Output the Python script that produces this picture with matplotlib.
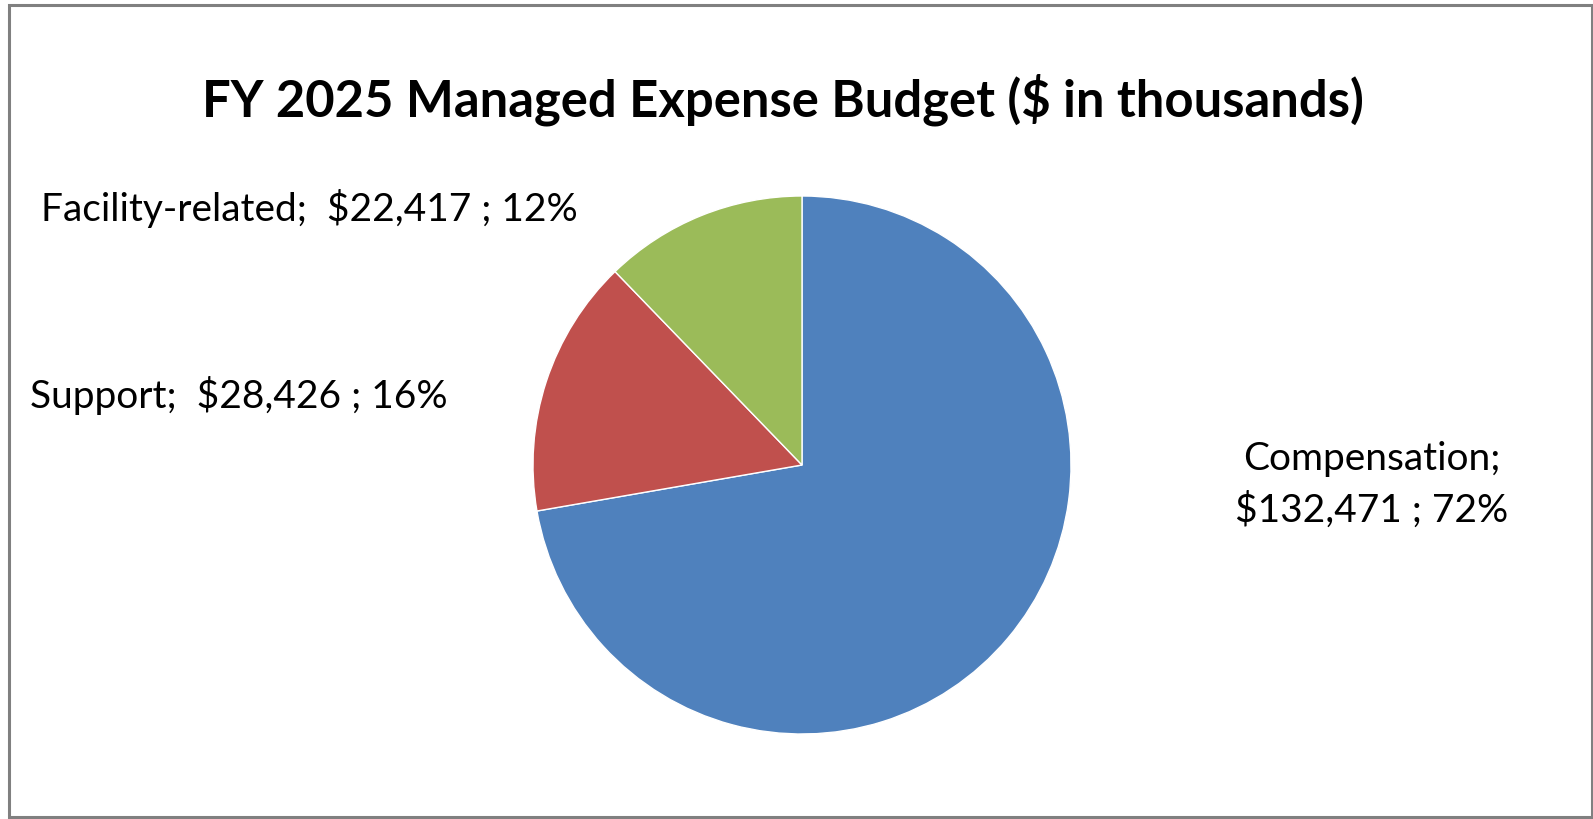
import matplotlib.pyplot as plt
from matplotlib.patches import Rectangle

plt.rcParams['font.family'] = ['Lato', 'DejaVu Sans']

categories = ['Compensation', 'Support', 'Facility-related']
values = [132471, 28426, 22417]
colors = ['#4F81BD', '#C0504D', '#9BBB59']

W, H = 1593, 820
fig = plt.figure(figsize=(W / 100, H / 100), dpi=100)

# pie: center and radius in pixels
cx, cy, r = 802, 466, 269
ax = fig.add_axes([(cx - r) / W, (H - cy - r) / H, 2 * r / W, 2 * r / H])
ax.pie(values, colors=colors, startangle=90, counterclock=False, radius=1,
       wedgeprops=dict(edgecolor='white', linewidth=1))
ax.set_xlim(-1, 1)
ax.set_ylim(-1, 1)
ax.set_aspect('auto')
ax.axis('off')

total = sum(values)
pct = [round(v / total * 100) for v in values]

def px(x, y):
    return x / W, 1 - y / H

fig.text(*px(783, 100), 'FY 2025 Managed Expense Budget ($ in thousands)',
         ha='center', va='center', fontsize=36.5, fontweight='bold', color='black')

fs = 28
fig.text(*px(1372, 459), f'{categories[0]};', ha='center', va='center', fontsize=fs)
fig.text(*px(1372, 510), f'${values[0]:,} ; {pct[0]}%', ha='center', va='center', fontsize=fs)
fig.text(*px(30, 396), f'{categories[1]};  ${values[1]:,} ; {pct[1]}%', ha='left', va='center', fontsize=fs)
fig.text(*px(41, 208), f'{categories[2]};  ${values[2]:,} ; {pct[2]}%', ha='left', va='center', fontsize=fs)

# chart border
fig.patches.append(Rectangle((8.5 / W, 2 / H), (1591.5 - 8.5) / W, (814.5 - 2) / H,
                             transform=fig.transFigure, fill=False,
                             edgecolor='#808080', linewidth=2.2))

fig.savefig('out.png', dpi=100, facecolor='white')
